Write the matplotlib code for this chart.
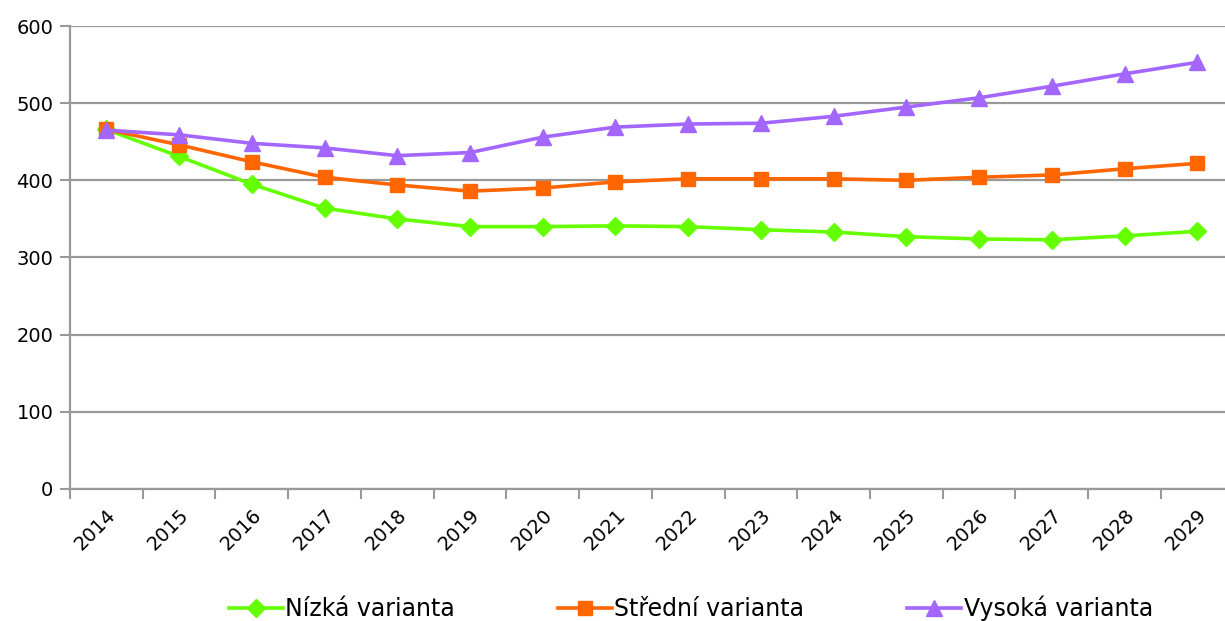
import matplotlib
matplotlib.use("Agg")
import matplotlib.pyplot as plt

# ========= data =========
years = [str(y) for y in range(2014, 2030)]
nizka = [466, 431, 395, 364, 350, 340, 340, 341, 340, 336, 333, 327, 324, 323, 328, 334]
stredni = [466, 446, 424, 404, 394, 386, 390, 398, 402, 402, 402, 400, 404, 407, 415, 422]
vysoka = [465, 459, 448, 442, 432, 436, 456, 469, 473, 474, 483, 495, 507, 522, 538, 553]
labels = ["Nízká varianta", "Střední varianta", "Vysoká varianta"]
y_ticks = [0, 100, 200, 300, 400, 500, 600]

plt.rcParams["font.family"] = ["DejaVu Sans"]

fig = plt.figure(figsize=(12.25, 6.21), dpi=100)
ax = fig.add_axes([0.0571, 0.2126, 0.950, 0.7455])

x = list(range(len(years)))
ax.plot(x, nizka, color="#66FF00", lw=2.6, marker="D", ms=9, label=labels[0], zorder=3)
ax.plot(x, stredni, color="#FF6600", lw=2.6, marker="s", ms=10.5, label=labels[1], zorder=4)
ax.plot(x, vysoka, color="#A366FF", lw=2.6, marker="^", ms=12, label=labels[2], zorder=5)

ax.set_xlim(-0.5, len(years) - 0.5)
ax.set_ylim(0, 600)
ax.set_yticks(y_ticks)
ax.yaxis.grid(True, color="#999999", lw=1.6)
ax.set_axisbelow(True)

# tick marks at category boundaries, labels at centers
ax.set_xticks([i - 0.5 for i in range(len(years) + 1)])
ax.set_xticklabels([])
ax.set_xticks(x, minor=True)
ax.set_xticklabels(years, minor=True, rotation=45, ha="right", rotation_mode="anchor",
                   fontsize=14)
ax.tick_params(axis="x", which="minor", length=0, pad=12)
ax.tick_params(axis="x", which="major", length=7, width=1.5, color="#999999")
ax.tick_params(axis="y", length=7, width=1.5, color="#999999", labelsize=14, pad=5)

for s in ["top", "right"]:
    ax.spines[s].set_visible(False)
for s in ["left", "bottom"]:
    ax.spines[s].set_color("#999999")
    ax.spines[s].set_linewidth(1.6)

fig.legend(loc="lower center", bbox_to_anchor=(0.564, -0.035), ncol=3, frameon=False,
           fontsize=17, columnspacing=4.35, handlelength=2.3, handletextpad=0.1)

fig.savefig("out.png", dpi=100)
plt.close(fig)
